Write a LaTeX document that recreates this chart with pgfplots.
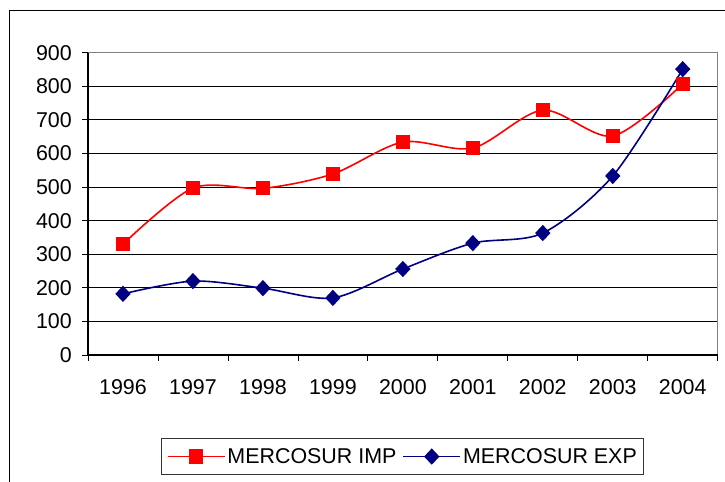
\documentclass[border=0pt]{standalone}
\usepackage{pgfplots}
\pgfplotsset{compat=1.18}
\usepackage{fontspec}
\setmainfont{Liberation Sans}
\definecolor{impred}{RGB}{255,0,0}
\definecolor{expnavy}{RGB}{0,0,128}
\newcommand{\chartfont}{\fontsize{21.5}{25}\selectfont}
\begin{document}
\begin{tikzpicture}[x=1bp,y=1bp]
\draw[line width=1bp] (9,0) -- (9,471) -- (725,471);
\begin{axis}[
  at={(88bp,127bp)}, anchor=south west,
  scale only axis, width=629.7bp, height=302.3bp,
  clip=false,
  xmin=-0.5, xmax=8.5, ymin=0, ymax=900,
  xtick={0,1,2,3,4,5,6,7,8},
  xticklabels={1996,1997,1998,1999,2000,2001,2002,2003,2004},
  minor xtick={-0.5,0.5,1.5,2.5,3.5,4.5,5.5,6.5,7.5,8.5},
  ytick={0,100,200,300,400,500,600,700,800,900},
  major x tick style={draw=none},
  minor x tick style={black, line width=0.8bp},
  major y tick style={black, line width=0.8bp},
  major tick length=6bp, minor tick length=6bp,
  tick align=outside, tick pos=left,
  ymajorgrids, grid style={black, line width=0.8bp},
  axis line style={draw=none},
  /pgf/number format/assume math mode=true,
  tick label style={font=\chartfont},
  xticklabel style={inner sep=0pt, anchor=north, yshift=-18bp},
  yticklabel style={inner sep=0pt, anchor=east, xshift=-10bp},
  legend style={at={(0.5,-0.336)}, anchor=center, legend columns=2,
    draw=black!80, line width=0.8bp, font=\chartfont,
    inner xsep=5bp, inner ysep=8bp,
    /tikz/every even column/.append style={column sep=4bp}},
  legend image code/.code={\draw[mark repeat=2,mark phase=2,#1] plot coordinates {(0bp,0bp) (28.5bp,0bp) (57bp,0bp)};},
]
\addplot[impred, line width=1.6bp, smooth, mark=square*, mark size=6.3bp, mark options={solid, fill=impred}]
  coordinates {(0,330) (1,497) (2,496) (3,539) (4,634) (5,616) (6,729) (7,652) (8,807)};
\addlegendentry{MERCOSUR IMP}
\addplot[expnavy, line width=1.6bp, smooth, mark=diamond*, mark size=7bp, mark options={solid, fill=expnavy, xscale=1.25}]
  coordinates {(0,182) (1,220) (2,199) (3,170) (4,256) (5,333) (6,363) (7,533) (8,851)};
\addlegendentry{MERCOSUR EXP}
\draw[gray, line width=1.2bp] (rel axis cs:0,1) -- (rel axis cs:1,1) -- (rel axis cs:1,0);
\draw[black, line width=1.2bp] (rel axis cs:0,1) -- (rel axis cs:0,0) -- (rel axis cs:1,0);
\end{axis}
\pgfresetboundingbox
\useasboundingbox (0,0) rectangle (725,482);
\end{tikzpicture}
\end{document}
